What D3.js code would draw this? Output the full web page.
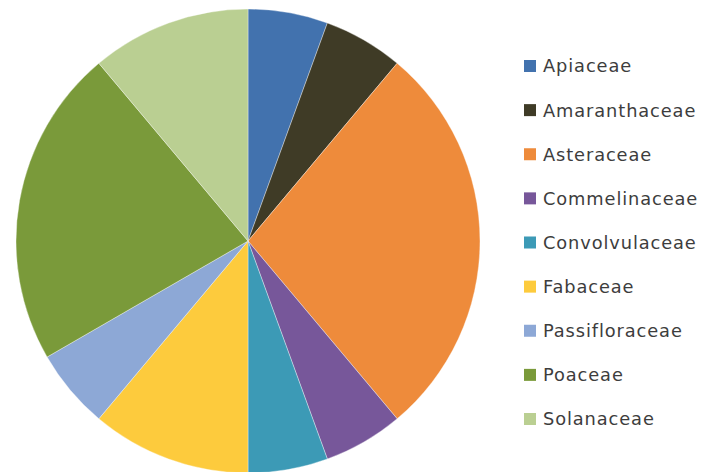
<!DOCTYPE html>
<html>
<head>
<meta charset="utf-8">
<script src="https://cdn.jsdelivr.net/npm/d3@7"></script>
<style>
  html, body { margin: 0; padding: 0; background: #ffffff; }
  svg { display: block; }
</style>
</head>
<body>
<div id="chart"></div>
<script>
// Plant families and their counts
const families = ["Apiaceae", "Amaranthaceae", "Asteraceae", "Commelinaceae",
                  "Convolvulaceae", "Fabaceae", "Passifloraceae", "Poaceae", "Solanaceae"];
const counts = [1, 1, 5, 1, 1, 2, 1, 4, 2];
const colors = ["#4272AE", "#3F3B26", "#EE8B3B", "#77579A", "#3C9AB6",
                "#FDCB3D", "#8DA8D6", "#7A9A3A", "#BACF92"];

const width = 702, height = 472;
const cx = 248, cy = 241, radius = 232;

const svg = d3.select("#chart").append("svg")
  .attr("width", width).attr("height", height);

const data = families.map((f, i) => ({ name: f, value: counts[i] }));

const color = d3.scaleOrdinal().domain(families).range(colors);

const pie = d3.pie().value(d => d.value).sort(null);
const arc = d3.arc().innerRadius(0).outerRadius(radius);

const g = svg.append("g").attr("transform", `translate(${cx},${cy})`);
g.selectAll("path")
  .data(pie(data))
  .join("path")
  .attr("d", arc)
  .attr("fill", d => color(d.data.name))
  .attr("stroke", "#ffffff")
  .attr("stroke-opacity", 0.45)
  .attr("stroke-width", 0.8);

// Legend
const legendY = d3.scalePoint().domain(families).range([66, 419]);
const legend = svg.append("g");
const item = legend.selectAll("g")
  .data(families)
  .join("g")
  .attr("transform", d => `translate(524,${legendY(d)})`);
item.append("rect")
  .attr("x", 0).attr("y", -6)
  .attr("width", 12).attr("height", 12)
  .attr("fill", d => color(d));
item.append("text")
  .attr("x", 19).attr("y", 0)
  .attr("dy", "0.36em")
  .attr("font-family", "'DejaVu Sans', sans-serif")
  .attr("font-size", 17.8)
  .attr("letter-spacing", 0.9)
  .attr("fill", "#3d3d3d")
  .text(d => d);
</script>
</body>
</html>
